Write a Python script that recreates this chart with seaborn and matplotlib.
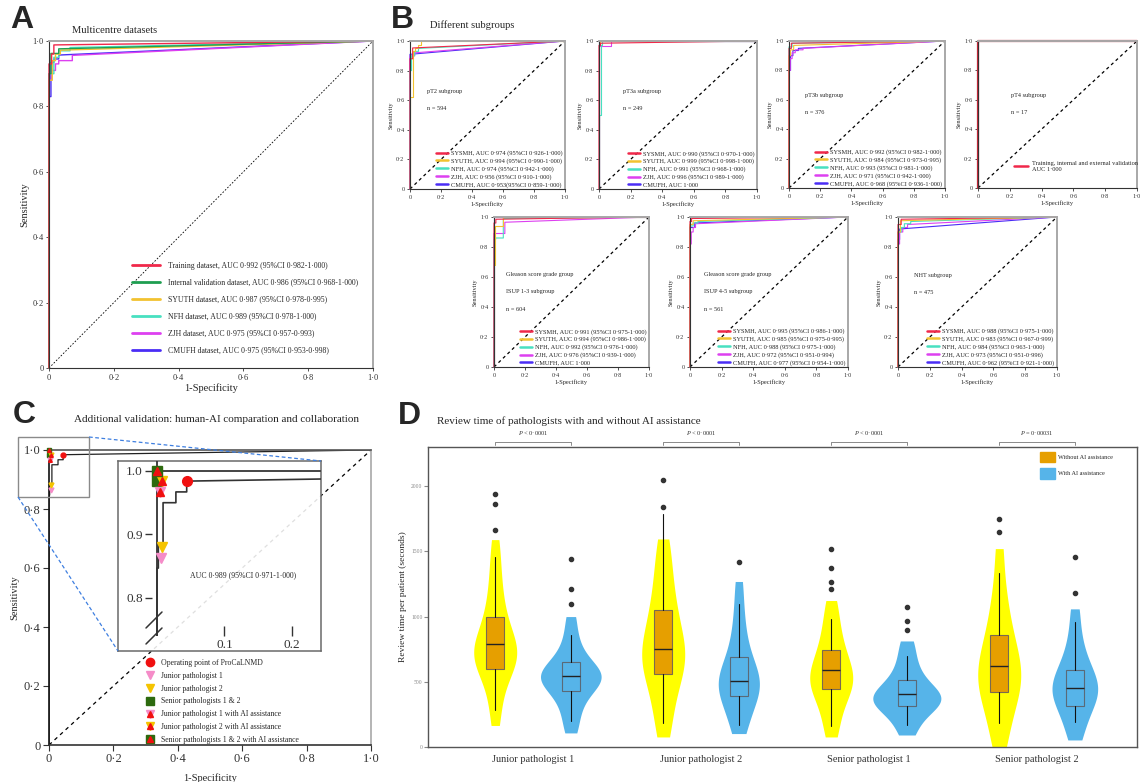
import numpy as np
import pandas as pd
import matplotlib
matplotlib.use("Agg")
import matplotlib.pyplot as plt
import seaborn as sns
from matplotlib.lines import Line2D
from matplotlib.patches import Patch
from matplotlib.ticker import FuncFormatter

W, H = 1144, 782

# colours used for the centres
C_RED = "#F0284A"
C_GREEN = "#1E9E50"
C_GOLD = "#F2C230"
C_TURQ = "#48E0C0"
C_MAG = "#DD40F0"
C_BLUE = "#4A2DF5"

# ---------------- panel A: multicentre ROC ----------------
a_labels = [
    "Training dataset, AUC 0·992 (95%CI 0·982-1·000)",
    "Internal validation dataset, AUC 0·986 (95%CI 0·968-1·000)",
    "SYUTH dataset, AUC 0·987 (95%CI 0·978-0·995)",
    "NFH dataset, AUC 0·989 (95%CI 0·978-1·000)",
    "ZJH dataset, AUC 0·975 (95%CI 0·957-0·993)",
    "CMUFH dataset, AUC 0·975 (95%CI 0·953-0·998)",
]
a_colors = [C_RED, C_GREEN, C_GOLD, C_TURQ, C_MAG, C_BLUE]
a_fpr = [
    [0, 0, 0.008, 0.008, 0.015, 0.015, 1],
    [0, 0, 0.006, 0.006, 0.03, 0.03, 1],
    [0, 0, 0.01, 0.01, 0.02, 0.02, 0.035, 0.035, 1],
    [0, 0, 0.015, 0.015, 0.03, 0.03, 0.065, 0.065, 1],
    [0, 0, 0.008, 0.008, 0.02, 0.02, 0.03, 0.03, 0.072, 0.072, 1],
    [0, 0, 0.006, 0.006, 0.015, 0.015, 0.03, 0.03, 1],
]
a_tpr = [
    [0, 0.93, 0.93, 0.96, 0.96, 0.988, 1],
    [0, 0.90, 0.90, 0.962, 0.962, 0.976, 1],
    [0, 0.88, 0.88, 0.94, 0.94, 0.96, 0.96, 0.972, 1],
    [0, 0.90, 0.90, 0.95, 0.95, 0.97, 0.97, 0.98, 1],
    [0, 0.88, 0.88, 0.91, 0.91, 0.93, 0.93, 0.94, 0.94, 0.956, 1],
    [0, 0.83, 0.83, 0.935, 0.935, 0.945, 0.945, 0.957, 1],
]

# ---------------- panel B: subgroups ----------------
b_centres = ["SYSMH", "SYUTH", "NFH", "ZJH", "CMUFH"]
b_colors = [C_RED, C_GOLD, C_TURQ, C_MAG, C_BLUE]

pt2_text = ["pT2 subgroup", "n = 594"]
pt2_auc = ["AUC 0·974 (95%CI 0·926-1·000)", "AUC 0·994 (95%CI 0·990-1·000)",
           "AUC 0·974 (95%CI 0·942-1·000)", "AUC 0·956 (95%CI 0·910-1·000)",
           "AUC 0·953(95%CI 0·859-1·000)"]
pt2_fpr = [[0, 0, 0.017, 0.017, 1],
           [0, 0, 0.02, 0.02, 0.035, 0.035, 0.05, 0.05, 0.068, 0.068, 1],
           [0, 0, 0.01, 0.01, 0.03, 0.03, 0.055, 0.055, 1],
           [0, 0, 0.03, 0.03, 1],
           [0, 0, 1]]
pt2_tpr = [[0, 0.88, 0.88, 0.953, 1],
           [0, 0.62, 0.62, 0.93, 0.93, 0.95, 0.95, 0.975, 0.975, 1, 1],
           [0, 0.80, 0.80, 0.90, 0.90, 0.93, 0.93, 0.95, 1],
           [0, 0.90, 0.90, 0.92, 1],
           [0, 0.91, 1]]

pt3a_text = ["pT3a subgroup", "n = 249"]
pt3a_auc = ["AUC 0·990 (95%CI 0·970-1·000)", "AUC 0·999 (95%CI 0·998-1·000)",
            "AUC 0·991 (95%CI 0·968-1·000)", "AUC 0·996 (95%CI 0·989-1·000)",
            "AUC 1·000"]
pt3a_fpr = [[0, 0, 0.01, 0.01, 1],
            [0, 0, 0.005, 0.005, 1],
            [0, 0, 0.01, 0.01, 0.02, 0.02, 1],
            [0, 0, 0.075, 0.075, 1],
            [0, 0, 1]]
pt3a_tpr = [[0, 0.97, 0.97, 0.985, 1],
            [0, 0.98, 0.98, 1, 1],
            [0, 0.50, 0.50, 0.97, 0.97, 1, 1],
            [0, 0.965, 0.965, 1, 1],
            [0, 1, 1]]

pt3b_text = ["pT3b subgroup", "n = 376"]
pt3b_auc = ["AUC 0·992 (95%CI 0·982-1·000)", "AUC 0·984 (95%CI 0·973-0·995)",
            "AUC 0·993 (95%CI 0·981-1·000)", "AUC 0·971 (95%CI 0·942-1·000)",
            "AUC 0·968 (95%CI 0·936-1·000)"]
pt3b_fpr = [[0, 0, 0.015, 0.015, 1],
            [0, 0, 0.01, 0.01, 0.03, 0.03, 1],
            [0, 0, 0.02, 0.02, 1],
            [0, 0, 0.008, 0.008, 0.02, 0.02, 0.04, 0.04, 0.09, 0.09, 1],
            [0, 0, 0.01, 0.01, 0.025, 0.025, 0.06, 0.06, 1]]
pt3b_tpr = [[0, 0.95, 0.95, 0.985, 1],
            [0, 0.90, 0.90, 0.94, 0.94, 0.97, 1],
            [0, 0.96, 0.96, 0.985, 1],
            [0, 0.80, 0.80, 0.88, 0.88, 0.92, 0.92, 0.94, 0.94, 0.95, 1],
            [0, 0.80, 0.80, 0.90, 0.90, 0.935, 0.935, 0.95, 1]]

pt4_text = ["pT4 subgroup", "n = 17"]
pt4_label = "Training, internal and external validation\nAUC 1·000"
pt4_fpr = [0, 0, 1]
pt4_tpr = [0, 1, 1]

isup13_text = ["Gleason score grade group", "ISUP 1-3 subgroup", "n = 604"]
isup13_auc = ["AUC 0·991 (95%CI 0·975-1·000)", "AUC 0·994 (95%CI 0·986-1·000)",
              "AUC 0·992 (95%CI 0·976-1·000)", "AUC 0·976 (95%CI 0·939-1·000)",
              "AUC 1·000"]
isup13_fpr = [[0, 0, 0.012, 0.012, 1],
              [0, 0, 0.004, 0.004, 0.055, 0.055, 1],
              [0, 0, 0.01, 0.01, 0.06, 0.06, 1],
              [0, 0, 0.07, 0.07, 1],
              [0, 0, 1]]
isup13_tpr = [[0, 0.96, 0.96, 0.985, 1],
              [0, 0.68, 0.68, 0.94, 0.94, 1, 1],
              [0, 0.85, 0.85, 0.86, 0.86, 0.99, 1],
              [0, 0.89, 0.89, 0.965, 1],
              [0, 1, 1]]

isup45_text = ["Gleason score grade group", "ISUP 4-5 subgroup", "n = 561"]
isup45_auc = ["AUC 0·995 (95%CI 0·986-1·000)", "AUC 0·985 (95%CI 0·975-0·995)",
              "AUC 0·988 (95%CI 0·975-1·000)", "AUC 0·972 (95%CI 0·951-0·994)",
              "AUC 0·977 (95%CI 0·954-1·000)"]
isup45_fpr = [[0, 0, 0.01, 0.01, 1],
              [0, 0, 0.02, 0.02, 1],
              [0, 0, 0.02, 0.02, 0.05, 0.05, 1],
              [0, 0, 0.008, 0.008, 0.02, 0.02, 0.035, 0.035, 1],
              [0, 0, 0.03, 0.03, 1]]
isup45_tpr = [[0, 0.97, 0.97, 0.99, 1],
              [0, 0.95, 0.95, 0.975, 1],
              [0, 0.94, 0.94, 0.96, 0.96, 0.97, 1],
              [0, 0.82, 0.82, 0.90, 0.90, 0.93, 0.93, 0.955, 1],
              [0, 0.93, 0.93, 0.96, 1]]

nht_text = ["NHT subgroup", "n = 475"]
nht_auc = ["AUC 0·988 (95%CI 0·975-1·000)", "AUC 0·983 (95%CI 0·967-0·999)",
           "AUC 0·984 (95%CI 0·963-1·000)", "AUC 0·973 (95%CI 0·951-0·996)",
           "AUC 0·962 (95%CI 0·921-1·000)"]
nht_fpr = [[0, 0, 0.02, 0.02, 1],
           [0, 0, 0.015, 0.015, 1],
           [0, 0, 0.02, 0.02, 0.04, 0.04, 0.08, 0.08, 1],
           [0, 0, 0.01, 0.01, 0.03, 0.03, 0.06, 0.06, 1],
           [0, 0, 0.01, 0.01, 1]]
nht_tpr = [[0, 0.95, 0.95, 0.985, 1],
           [0, 0.90, 0.90, 0.975, 1],
           [0, 0.90, 0.90, 0.93, 0.93, 0.955, 0.955, 0.97, 1],
           [0, 0.82, 0.82, 0.90, 0.90, 0.93, 0.93, 0.95, 1],
           [0, 0.85, 0.85, 0.92, 1]]

# ---------------- panel C: human vs AI ----------------
c_fpr = [0, 0, 0.002, 0.002, 0.009, 0.009, 0.028, 0.028, 0.044, 0.044, 1.0]
c_tpr = [0, 0.847, 0.847, 0.882, 0.882, 0.95, 0.95, 0.967, 0.967, 0.984, 1.0]
c_auc = "AUC 0·989 (95%CI 0·971-1·000)"
reader_names = ["Operating point of ProCaLNMD", "Junior pathologist 1", "Junior pathologist 2",
                "Senior pathologists 1 & 2", "Junior pathologist 1 with AI assistance",
                "Junior pathologist 2 with AI assistance",
                "Senior pathologists 1 & 2 with AI assistance"]
reader_fpr = [0.044, 0.006, 0.0075, 0.0, 0.0045, 0.0075, 0.0]
reader_sens = [0.984, 0.863, 0.880, 0.984, 0.967, 0.984, 1.0]

# ---------------- panel D: review time ----------------
groups = ["Junior pathologist 1", "Junior pathologist 2",
          "Senior pathologist 1", "Senior pathologist 2"]
conds = ["Without AI assistance", "With AI assistance"]
p_texts = ["$P$ < 0·0001", "$P$ < 0·0001", "$P$ < 0·0001", "$P$ = 0·00031"]

# rough samples (seconds)
j1_without = [165, 300, 420, 520, 580, 620, 650, 680, 700, 720, 740, 770, 800, 840, 890,
              950, 1010, 1090, 1190, 1300, 1440, 1590]
j1_with = [108, 210, 300, 370, 420, 460, 490, 510, 530, 545, 560, 580, 610, 640, 690,
           760, 860, 1000]
j2_without = [77, 200, 330, 440, 520, 580, 630, 670, 710, 750, 800, 860, 930, 1010,
              1090, 1190, 1310, 1450, 1595]
j2_with = [103, 190, 290, 350, 400, 440, 470, 500, 530, 570, 620, 690, 780, 900,
           1060, 1269]
s1_without = [77, 190, 300, 380, 430, 470, 500, 530, 570, 610, 660, 720, 790, 880,
              990, 1123]
s1_with = [92, 180, 250, 290, 315, 340, 360, 380, 400, 420, 450, 490, 540, 610, 700, 813]
s2_without = [0, 130, 260, 360, 420, 470, 520, 570, 620, 680, 750, 830, 930, 1060,
              1230, 1521]
s2_with = [54, 160, 250, 310, 360, 400, 430, 460, 500, 540, 590, 650, 740, 870, 1059]

# box statistics
box_med_without = [787, 749, 587, 618]
box_q1_without = [597, 556, 441, 418]
box_q3_without = [1000, 1051, 746, 856]
box_lo_without = [282, 185, 162, 185]
box_hi_without = [1459, 1785, 982, 1331]
fliers_without = [[1662, 1862, 1938], [1838, 2046], [1215, 1262, 1369, 1515], [1646, 1750]]
box_med_with = [541, 503, 410, 449]
box_q1_with = [426, 390, 318, 318]
box_q3_with = [649, 687, 510, 587]
box_lo_with = [200, 167, 167, 195]
box_hi_with = [862, 1095, 697, 959]
fliers_with = [[1100, 1215, 1438], [1415], [900, 969, 1077], [1177, 1454]]

# ------------------------------------------------------------------
sns.set_theme(style="white")
plt.rcParams["font.family"] = ["Liberation Serif", "DejaVu Serif"]
plt.rcParams["mathtext.fontset"] = "custom"
plt.rcParams["mathtext.it"] = "Liberation Serif:italic"
plt.rcParams["mathtext.rm"] = "Liberation Serif"

fig = plt.figure(figsize=(W / 100, H / 100), dpi=100)


def place(x0, y0, x1, y1):
    return fig.add_axes([x0 / W, 1 - y1 / H, (x1 - x0) / W, (y1 - y0) / H])


def fx(x):
    return x / W


def fy(y):
    return 1 - y / H


def dot_fmt(v, pos):
    if abs(v) < 1e-9:
        return "0"
    return f"{v:.1f}".replace(".", "·")


def style_roc(ax, tick_fs, lab_fs, dash_lw=0.6, dash=(2, 2)):
    ax.plot([0, 1], [0, 1], ls=(0, dash), color="black", lw=dash_lw, zorder=1)
    ax.set_xlim(0, 1)
    ax.set_ylim(0, 1)
    ticks = np.arange(0, 1.01, 0.2)
    ax.set_xticks(ticks)
    ax.set_yticks(ticks)
    ax.xaxis.set_major_formatter(FuncFormatter(dot_fmt))
    ax.yaxis.set_major_formatter(FuncFormatter(dot_fmt))
    ax.tick_params(labelsize=tick_fs, length=2.5, width=0.6, pad=1.5,
                   colors="#333333", bottom=True, left=True)
    for s in ["left", "bottom"]:
        ax.spines[s].set_color("#333333")
        ax.spines[s].set_linewidth(0.8)
    for s in ["top", "right"]:
        ax.spines[s].set_color("#A8A8A8")
        ax.spines[s].set_linewidth(1.4)
    ax.set_xlabel("1-Specificity", fontsize=lab_fs, labelpad=1)
    ax.set_ylabel("Sensitivity", fontsize=lab_fs, labelpad=2)


def draw_curves(ax, fprs, tprs, colors, lw=0.9):
    for f, t, c in reversed(list(zip(fprs, tprs, colors))):
        sns.lineplot(x=f, y=t, sort=False, estimator=None, color=c, lw=lw, ax=ax)
    for ln in ax.lines:
        ln.set_clip_on(False)


# ---------------- A ----------------
ax_a = place(49, 41, 373, 368)
draw_curves(ax_a, a_fpr, a_tpr, a_colors, lw=1.0)
style_roc(ax_a, 6, 7.5, dash_lw=0.6, dash=(2, 2))
ax_a.legend([Line2D([], [], color=c, lw=2) for c in a_colors], a_labels,
            loc="lower left", bbox_to_anchor=(0.235, 0.02), fontsize=5.6,
            frameon=False, handlelength=3.6, handletextpad=1.0, labelspacing=1.15)
ax_a.set_title("Multicentre datasets", fontsize=7.6, loc="left", x=0.07, pad=6)

# ---------------- B ----------------
b_panels = [
    ((410, 41, 565, 189), pt2_fpr, pt2_tpr, pt2_auc, pt2_text, (0.11, 0.66)),
    ((599, 41, 757, 189), pt3a_fpr, pt3a_tpr, pt3a_auc, pt3a_text, (0.15, 0.66)),
    ((789, 41, 945, 188), pt3b_fpr, pt3b_tpr, pt3b_auc, pt3b_text, (0.10, 0.63)),
    ((494, 217, 649, 367), isup13_fpr, isup13_tpr, isup13_auc, isup13_text, (0.08, 0.615)),
    ((690, 217, 848, 367), isup45_fpr, isup45_tpr, isup45_auc, isup45_text, (0.09, 0.615)),
    ((898, 217, 1057, 367), nht_fpr, nht_tpr, nht_auc, nht_text, (0.10, 0.61)),
]
for box, fprs, tprs, aucs, txt, tpos in b_panels:
    ax = place(*box)
    draw_curves(ax, fprs, tprs, b_colors, lw=0.8)
    style_roc(ax, 4.4, 4.6, dash_lw=0.9, dash=(2.5, 2.5))
    labels = [f"{c}, {a}" for c, a in zip(b_centres, aucs)]
    ax.legend([Line2D([], [], color=c, lw=1.8) for c in b_colors], labels,
              loc="lower right", bbox_to_anchor=(0.99, 0.0), fontsize=4.6,
              frameon=False, handlelength=1.9, handletextpad=0.4,
              labelspacing=0.32, borderaxespad=0.1, borderpad=0.1)
    for i, t in enumerate(txt):
        ax.text(tpos[0], tpos[1] - i * 0.115, t, transform=ax.transAxes,
                fontsize=4.5, va="center")

ax_p4 = place(978, 41, 1137, 188)
sns.lineplot(x=pt4_fpr, y=pt4_tpr, sort=False, estimator=None, color="#C8283A",
             lw=1.6, ax=ax_p4)
for ln in ax_p4.lines:
    ln.set_clip_on(False)
style_roc(ax_p4, 4.4, 4.6, dash_lw=0.9, dash=(2.5, 2.5))
ax_p4.legend([Line2D([], [], color=C_RED, lw=1.8)], [pt4_label], loc="lower left",
             bbox_to_anchor=(0.19, 0.07), fontsize=4.6, frameon=False,
             handlelength=2.2, handletextpad=0.6)
for i, t in enumerate(pt4_text):
    ax_p4.text(0.21, 0.63 - i * 0.115, t, transform=ax_p4.transAxes, fontsize=4.5,
               va="center")

fig.text(fx(430), fy(25), "Different subgroups", fontsize=7.6, va="center")

# ---------------- C ----------------
ax_c = place(49, 450, 371, 745)
ax_c.plot([0, 1], [0, 1], ls=(0, (3, 3)), color="black", lw=0.9, zorder=1)
sns.lineplot(x=c_fpr, y=c_tpr, sort=False, estimator=None, color="#222222", lw=0.9,
             ax=ax_c)
ax_c.set_xlim(0, 1)
ax_c.set_ylim(0, 1)
ticks = np.arange(0, 1.01, 0.2)
ax_c.set_xticks(ticks)
ax_c.set_yticks(ticks)
ax_c.xaxis.set_major_formatter(FuncFormatter(dot_fmt))
ax_c.yaxis.set_major_formatter(FuncFormatter(dot_fmt))
ax_c.tick_params(labelsize=9, length=4, width=0.8, pad=2, colors="#333333",
                 bottom=True, left=True)
ax_c.spines["left"].set_color("#111111")
ax_c.spines["bottom"].set_color("#333333")
ax_c.spines["top"].set_color("#555555")
ax_c.spines["right"].set_color("#A8A8A8")
for s in ax_c.spines.values():
    s.set_linewidth(1.2)
ax_c.set_xlabel("1-Specificity", fontsize=7.5, labelpad=6)
ax_c.set_ylabel("Sensitivity", fontsize=7.5, labelpad=3)

PINK = "#F58CC8"
YEL = "#F5C400"
DGREEN = "#2D6A0F"
RED = "#F01010"


def reader_handles(ms):
    return [
        Line2D([], [], ls="none", marker="o", color=RED, ms=ms),
        Line2D([], [], ls="none", marker="v", color=PINK, ms=ms),
        Line2D([], [], ls="none", marker="v", color=YEL, ms=ms),
        Line2D([], [], ls="none", marker="s", color=DGREEN, ms=ms),
        (Line2D([], [], ls="none", marker="v", color=PINK, ms=ms),
         Line2D([], [], ls="none", marker="^", color=RED, ms=ms * 0.75)),
        (Line2D([], [], ls="none", marker="v", color=YEL, ms=ms),
         Line2D([], [], ls="none", marker="^", color=RED, ms=ms * 0.75)),
        (Line2D([], [], ls="none", marker="s", color=DGREEN, ms=ms),
         Line2D([], [], ls="none", marker="^", color=RED, ms=ms * 0.75)),
    ]


def draw_readers(ax, ms):
    hs = reader_handles(ms)
    for h, x, y in zip(hs, reader_fpr, reader_sens):
        parts = h if isinstance(h, tuple) else (h,)
        for p in parts:
            ax.plot([x], [y], ls="none", marker=p.get_marker(), color=p.get_color(),
                    ms=p.get_markersize(), clip_on=False, zorder=5)


draw_readers(ax_c, 3.5)
ax_c.legend(reader_handles(6), reader_names, loc="upper left",
            bbox_to_anchor=(fx(145), fy(659)), bbox_transform=fig.transFigure,
            fontsize=5.6, frameon=False, handlelength=1.2, handletextpad=0.9,
            labelspacing=0.62, borderpad=0, borderaxespad=0)
fig.text(fx(74), fy(420), "Additional validation: human-AI comparation and collaboration",
         fontsize=8, va="center")

# zoom box + connectors
ax_c.add_patch(plt.Rectangle((-0.096, 0.841), 0.22, 0.203, fill=False,
                             ec="#8A8A8A", lw=1.0, clip_on=False, zorder=6))
fig.add_artist(Line2D([fx(89), fx(321)], [fy(437), fy(461)], color="#3E7FE0", lw=0.9,
                      ls=(0, (3, 2))))
fig.add_artist(Line2D([fx(18), fx(118)], [fy(497), fy(651)], color="#3E7FE0", lw=0.9,
                      ls=(0, (3, 2))))

# inset frame and inset
ax_fr = place(118, 461, 321, 651)
ax_fr.set_facecolor((1, 1, 1, 0.88))
ax_fr.set_xticks([])
ax_fr.set_yticks([])
for s in ax_fr.spines.values():
    s.set_color("#6A6A6A")
    s.set_linewidth(1.1)

ax_in = place(152, 461, 321, 636)
ax_in.patch.set_alpha(0)
ax_in.axvline(0, color="#333333", lw=1.3)
ax_in.axhline(1.0, color="#444444", lw=1.4)
sns.lineplot(x=c_fpr, y=c_tpr, sort=False, estimator=None, color="#333333", lw=1.2,
             ax=ax_in)
draw_readers(ax_in, 7)
ax_in.set_xlim(-0.0074, 0.243)
ax_in.set_ylim(0.740, 1.0157)
ax_in.set_xticks([0.1, 0.2])
ax_in.set_yticks([0.8, 0.9, 1.0])
ax_in.tick_params(axis="y", labelsize=9.5, length=5, width=1, direction="out",
                  left=True, pad=1.5, colors="#333333")
ax_in.tick_params(axis="x", labelsize=9.5, length=7, width=1, direction="in",
                  bottom=True, pad=2, colors="#333333")
for s in ax_in.spines.values():
    s.set_visible(False)
ax_in.text(0.127, 0.836, c_auc, fontsize=5.6, ha="center", va="center")
for y0 in [628, 644]:
    fig.add_artist(Line2D([fx(146), fx(162)], [fy(y0), fy(y0 - 16)], color="#333333",
                          lw=1.1))

# ---------------- D ----------------
hue_off = {conds[0]: -0.225, conds[1]: 0.225}
samples = {
    (0, conds[0]): j1_without, (0, conds[1]): j1_with,
    (1, conds[0]): j2_without, (1, conds[1]): j2_with,
    (2, conds[0]): s1_without, (2, conds[1]): s1_with,
    (3, conds[0]): s2_without, (3, conds[1]): s2_with,
}
rows = []
for (gi, c), vals in samples.items():
    for v in vals:
        rows.append({"xpos": gi + hue_off[c], "cond": c, "time": v})
df = pd.DataFrame(rows)

ax_d = place(428, 447, 1137, 747)
# yellow violins all look about the same width, blue ones vary with spread
sns.violinplot(data=df[df["cond"] == conds[0]], x="xpos", y="time", native_scale=True,
               color="#FFFF00", inner=None, cut=0, linewidth=0, width=0.256,
               bw_adjust=0.8, saturation=1, density_norm="width", dodge=False, ax=ax_d)
sns.violinplot(data=df[df["cond"] == conds[1]], x="xpos", y="time", native_scale=True,
               color="#56B4E9", inner=None, cut=0, linewidth=0, width=0.405,
               bw_adjust=0.8, saturation=1, density_norm="area", dodge=False, ax=ax_d)

pos = np.arange(len(groups))
for off, meds, q1s, q3s, los, his, fls, face, edge in [
    (-0.225, box_med_without, box_q1_without, box_q3_without, box_lo_without,
     box_hi_without, fliers_without, "#E69F00", "#7A6A50"),
    (0.225, box_med_with, box_q1_with, box_q3_with, box_lo_with, box_hi_with,
     fliers_with, "#56B4E9", "#5A6A78"),
]:
    stats = [dict(med=m, q1=a, q3=b, whislo=lo, whishi=hi, fliers=fl)
             for m, a, b, lo, hi, fl in zip(meds, q1s, q3s, los, his, fls)]
    ax_d.bxp(stats, positions=pos + off, widths=0.105, patch_artist=True,
             showcaps=False, manage_ticks=False,
             boxprops=dict(facecolor=face, edgecolor=edge, lw=0.8),
             medianprops=dict(color="#222222", lw=1.0),
             whiskerprops=dict(color="#111111", lw=0.8),
             flierprops=dict(marker="o", mfc="#333333", mec="#333333", ms=3))

ax_d.set_xlim(-0.625, 3.595)
ax_d.set_ylim(0, 2300)
ax_d.set_xticks(pos)
ax_d.set_xticklabels(groups, fontsize=7.5, color="#333333")
ax_d.set_yticks([0, 500, 1000, 1500, 2000])
ax_d.tick_params(axis="y", labelsize=4, colors="#888888", length=3, width=0.8,
                 left=True, pad=1)
ax_d.tick_params(axis="x", length=0, pad=6)
ax_d.set_xlabel("")
ax_d.set_ylabel("Review time per patient (seconds)", fontsize=6.8, labelpad=3)
for s in ax_d.spines.values():
    s.set_color("#555555")
    s.set_linewidth(1.0)

for i, t in enumerate(p_texts):
    x0, x1 = i - 0.225, i + 0.225
    ax_d.plot([x0, x0, x1, x1], [2312, 2338, 2338, 2312], color="#777777", lw=0.6,
              clip_on=False)
    ax_d.text(i, 2405, t, fontsize=4.6, ha="center", va="center", color="#333333",
              clip_on=False)

ax_d.legend([Patch(color="#E69F00"), Patch(color="#56B4E9")], conds, loc="upper left",
            bbox_to_anchor=(fx(1040), fy(452)), bbox_transform=fig.transFigure,
            fontsize=4.5, frameon=False, handlelength=2.4, handleheight=2.2,
            handletextpad=0.4, labelspacing=0.9, borderpad=0, borderaxespad=0)
fig.text(fx(437), fy(421), "Review time of pathologists with and without AI assistance",
         fontsize=8, va="center")

# panel letters
for letter, x, y in [("A", 10, 20), ("B", 391, 20), ("C", 13, 415), ("D", 398, 416)]:
    fig.text(fx(x), fy(y), letter, fontsize=23, fontweight="bold",
             family="Liberation Sans", va="center")

fig.savefig("out.png", dpi=100)
